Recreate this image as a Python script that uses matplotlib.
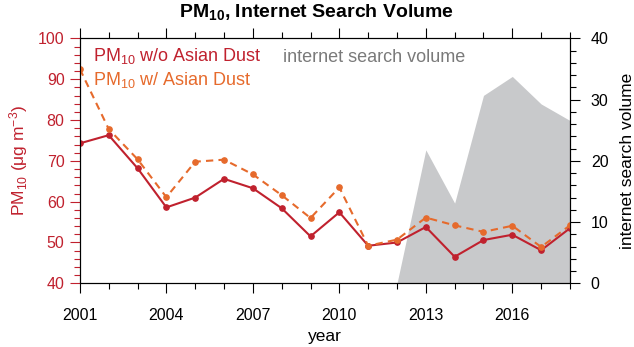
import numpy as np
import matplotlib.pyplot as plt
from matplotlib.ticker import MultipleLocator

plt.rcParams['font.family'] = ['Liberation Sans', 'DejaVu Sans']
plt.rcParams['mathtext.fontset'] = 'custom'
plt.rcParams['mathtext.rm'] = 'Liberation Sans'
plt.rcParams['mathtext.it'] = 'Liberation Sans:italic'
plt.rcParams['mathtext.bf'] = 'Liberation Sans:bold'
plt.rcParams['mathtext.default'] = 'regular'

years = np.arange(2001, 2019)
pm10_wo_dust = [74.3, 76.3, 68.2, 58.6, 61.0, 65.6, 63.3, 58.4, 51.5,
                57.4, 49.2, 50.0, 53.8, 46.5, 50.6, 51.9, 48.1, 53.5]
pm10_w_dust = [92.5, 77.8, 70.4, 61.1, 69.8, 70.3, 66.7, 61.6, 56.0,
               63.5, 49.2, 50.7, 56.1, 54.2, 52.6, 54.1, 48.9, 54.2]
search_volume = [0, 0, 0, 0, 0, 0, 0, 0, 0,
                 0, 0, 0, 21.8, 13.1, 30.7, 33.8, 29.3, 26.6]

red = '#c0212e'
orange = '#e66a2c'
gray = '#c8c9cb'

fig = plt.figure(figsize=(6.34, 3.47), dpi=100)
ax = fig.add_axes([0.126, 0.1836, 0.773, 0.7055])
ax2 = ax.twinx()

# search volume shaded behind the lines
ax2.fill_between(years, 0, search_volume, color=gray, linewidth=0)
ax2.set_ylim(0, 40)
ax2.yaxis.set_major_locator(MultipleLocator(10))
ax2.yaxis.set_minor_locator(MultipleLocator(2))
ax2.tick_params(axis='y', which='major', length=7, width=0.8, labelsize=11.5, pad=8)
ax2.tick_params(axis='y', which='minor', length=4, width=0.8)
ax2.set_ylabel('internet search volume', fontsize=12.5, labelpad=8)

ax.set_zorder(ax2.get_zorder() + 1)
ax.patch.set_visible(False)

ax.plot(years, pm10_wo_dust, color=red, lw=1.5, marker='o', ms=3.8)
ax.plot(years, pm10_w_dust, color=orange, lw=1.5, ls=(0, (3.5, 2.5)), marker='o', ms=3.8)

ax.set_xlim(2001, 2018)
ax.set_ylim(40, 100)
ax.set_xticks(np.arange(2001, 2018, 3))
ax.xaxis.set_minor_locator(MultipleLocator(1))
ax.yaxis.set_major_locator(MultipleLocator(10))
ax.yaxis.set_minor_locator(MultipleLocator(2))
ax.tick_params(axis='x', which='major', length=7, width=0.8, labelsize=11.5,
               top=True, pad=11)
ax.tick_params(axis='x', which='minor', length=4, width=0.8, top=True)
ax.tick_params(axis='y', which='major', length=7, width=0.8, labelsize=11.5,
               color=red, labelcolor=red, pad=4)
ax.tick_params(axis='y', which='minor', length=4, width=0.8, color=red)
ax.set_xlabel('year', fontsize=12.5, labelpad=4)
ax.set_ylabel('PM$_{10}$ (μg m$^{-3}$)', fontsize=12.5, color=red, labelpad=6)

for s in ax.spines.values():
    s.set_linewidth(0.8)

ax.text(0.027, 0.928, 'PM$_{10}$ w/o Asian Dust', transform=ax.transAxes,
        color=red, fontsize=13, va='center')
ax.text(0.027, 0.83, 'PM$_{10}$ w/ Asian Dust', transform=ax.transAxes,
        color=orange, fontsize=13, va='center')
ax.text(0.414, 0.924, 'internet search volume', transform=ax.transAxes,
        color='#7a7a7a', fontsize=13, va='center')

fig.suptitle(r'PM$_{10}$, Internet Search Volume', fontsize=14,
             fontweight='bold', x=0.5, y=0.995)

fig.savefig('out.png', dpi=100)
